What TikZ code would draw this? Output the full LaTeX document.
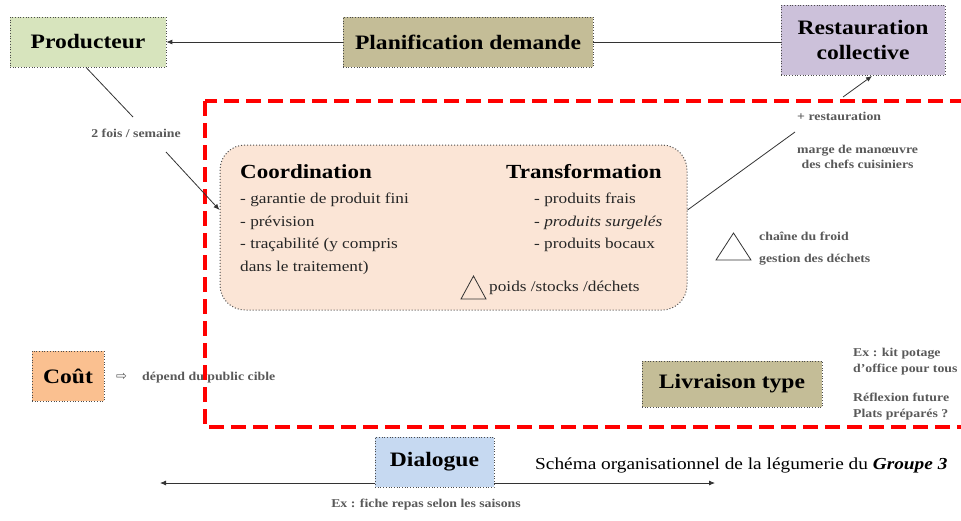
\documentclass[tikz,border=0pt]{standalone}
\usepackage{fontspec}
\setmainfont[FakeStretch=1.15]{Liberation Serif}
\newfontfamily\symfont{DejaVu Sans}
\usetikzlibrary{arrows.meta,calc}
\definecolor{prodgreen}{HTML}{D7E4BD}
\definecolor{khaki}{HTML}{C4BD97}
\definecolor{lavender}{HTML}{CCC1DA}
\definecolor{peach}{HTML}{FBE5D6}
\definecolor{orangebox}{HTML}{FAC090}
\definecolor{bluebox}{HTML}{C6D9F1}
\definecolor{graytxt}{HTML}{595959}
\definecolor{redline}{HTML}{FF0000}
\tikzset{
  boxnode/.style={draw=black!70, dotted, line width=0.7pt, inner sep=0pt, align=center,
    font=\bfseries\fontsize{20.5}{25}\selectfont},
  note/.style={text=graytxt, font=\bfseries\fontsize{12}{15}\selectfont, inner sep=0pt, align=left},
  body/.style={font=\fontsize{15}{22.5}\selectfont, inner sep=0pt, align=left, text=black!85},
  heading/.style={font=\bfseries\fontsize{20}{22}\selectfont, inner sep=0pt},
  arr/.style={-{Latex[length=6pt,width=5pt]}, line width=0.8pt, draw=black!80},
  conn/.style={line width=0.8pt, draw=black!80},
}
\begin{document}
\begin{tikzpicture}[x=1pt,y=-1pt]
\useasboundingbox (0,0) rectangle (961,520);
% red dashed frame
\draw[redline, line width=4.5pt, dash pattern=on 15pt off 7pt] (205,101) rectangle (985,427);
% top boxes
\node[boxnode, fill=prodgreen, minimum width=156pt, minimum height=50pt] (prod) at (88,42) {Producteur};
\node[boxnode, fill=khaki, minimum width=250pt, minimum height=50pt] (plan) at (468,42) {Planification demande};
\node[boxnode, fill=lavender, minimum width=164pt, minimum height=70pt, text depth=0pt] (rc) at (863,40) {Restauration\\collective};
\draw[arr] (plan.west) -- (prod.east);
\draw[conn] (plan.east) -- (plan.east -| rc.west);
% central rounded box
\node[draw=black!70, dotted, line width=1pt, fill=peach, rounded corners=25pt,
  minimum width=467pt, minimum height=165pt] (core) at (453.5,227.5) {};
\node[heading, anchor=west] (coord) at (240,172) {Coordination};
\node[body, anchor=north west] (coordlist) at (240,193) {- garantie de produit fini\\- prévision\\- traçabilité (y compris\\dans le traitement)};
\node[heading, anchor=west] (transf) at (506,172) {Transformation};
\node[body, anchor=north west] (translist) at (534,193) {- produits frais\\- \textit{produits surgelés}\\- produits bocaux};
\draw[line width=0.8pt, black!80] (461,299) -- (473.5,276) -- (486,299) -- cycle;
\node[body, anchor=west] (psd) at (489,288) {poids /stocks /déchets};
% producteur -> core
\node[note] (freq) at (136,133) {2 fois / semaine};
\coordinate (f1) at (133,117);
\coordinate (f2) at (166,152);
\draw[conn] ($(prod.south)+(-2,0)$) -- (f1);
\draw[arr] (f2) -- (core.west |- 0,210);
% core -> restauration
\node[note, anchor=west] (plusrest) at (797,116) {+ restauration};
\node[note, align=center, anchor=north west] (marge) at (797,145) {marge de manœuvre\\des chefs cuisiniers};
\coordinate (m1) at (795,132);
\draw[conn] (core.east |- 0,210) -- (m1);
\coordinate (r1) at (843,97);
\draw[arr] (r1) -- (872,76);
% cold chain
\draw[line width=0.8pt, black!80] (716,260) -- (733.5,233) -- (751,260) -- cycle;
\node[note, anchor=west] (froid) at (759,236) {chaîne du froid};
\node[note, anchor=west] (dechets) at (759,260) {gestion des déchets};
% cout
\node[boxnode, fill=orangebox, minimum width=72pt, minimum height=50pt] (cout) at (68,376) {Coût};
\node[note, anchor=west] (fleche) at (116,377) {{\symfont\mdseries\fontsize{13}{14}\selectfont ⇨}};
\node[note, anchor=west] (dep) at (142,378) {dépend du public cible};
% livraison
\node[boxnode, fill=khaki, minimum width=180pt, minimum height=46pt] (livr) at (732,384) {Livraison type};
\node[note, anchor=north west, font=\bfseries\fontsize{12}{16}\selectfont] (kit) at (853,348) {Ex : kit potage\\d’office pour tous};
\node[note, anchor=north west, font=\bfseries\fontsize{12}{16}\selectfont] (refl) at (853,393) {Réflexion future\\Plats préparés ?};
% dialogue
\node[boxnode, fill=bluebox, minimum width=119pt, minimum height=50pt] (dial) at (434.5,462) {Dialogue};
\coordinate (dl) at (160,483);
\coordinate (dr) at (715,483);
\draw[arr] (dial.west |- dl) -- (dl);
\draw[arr] (dial.east |- dr) -- (dr);
\node[note] (fiche) at (426,505) {Ex : fiche repas selon les saisons};
\node[anchor=west, inner sep=0pt, font=\fontsize{16.8}{20}\selectfont] (caption) at (535,465) {Schéma organisationnel de la légumerie du \textbf{\textit{Groupe 3}}};
\end{tikzpicture}
\end{document}
